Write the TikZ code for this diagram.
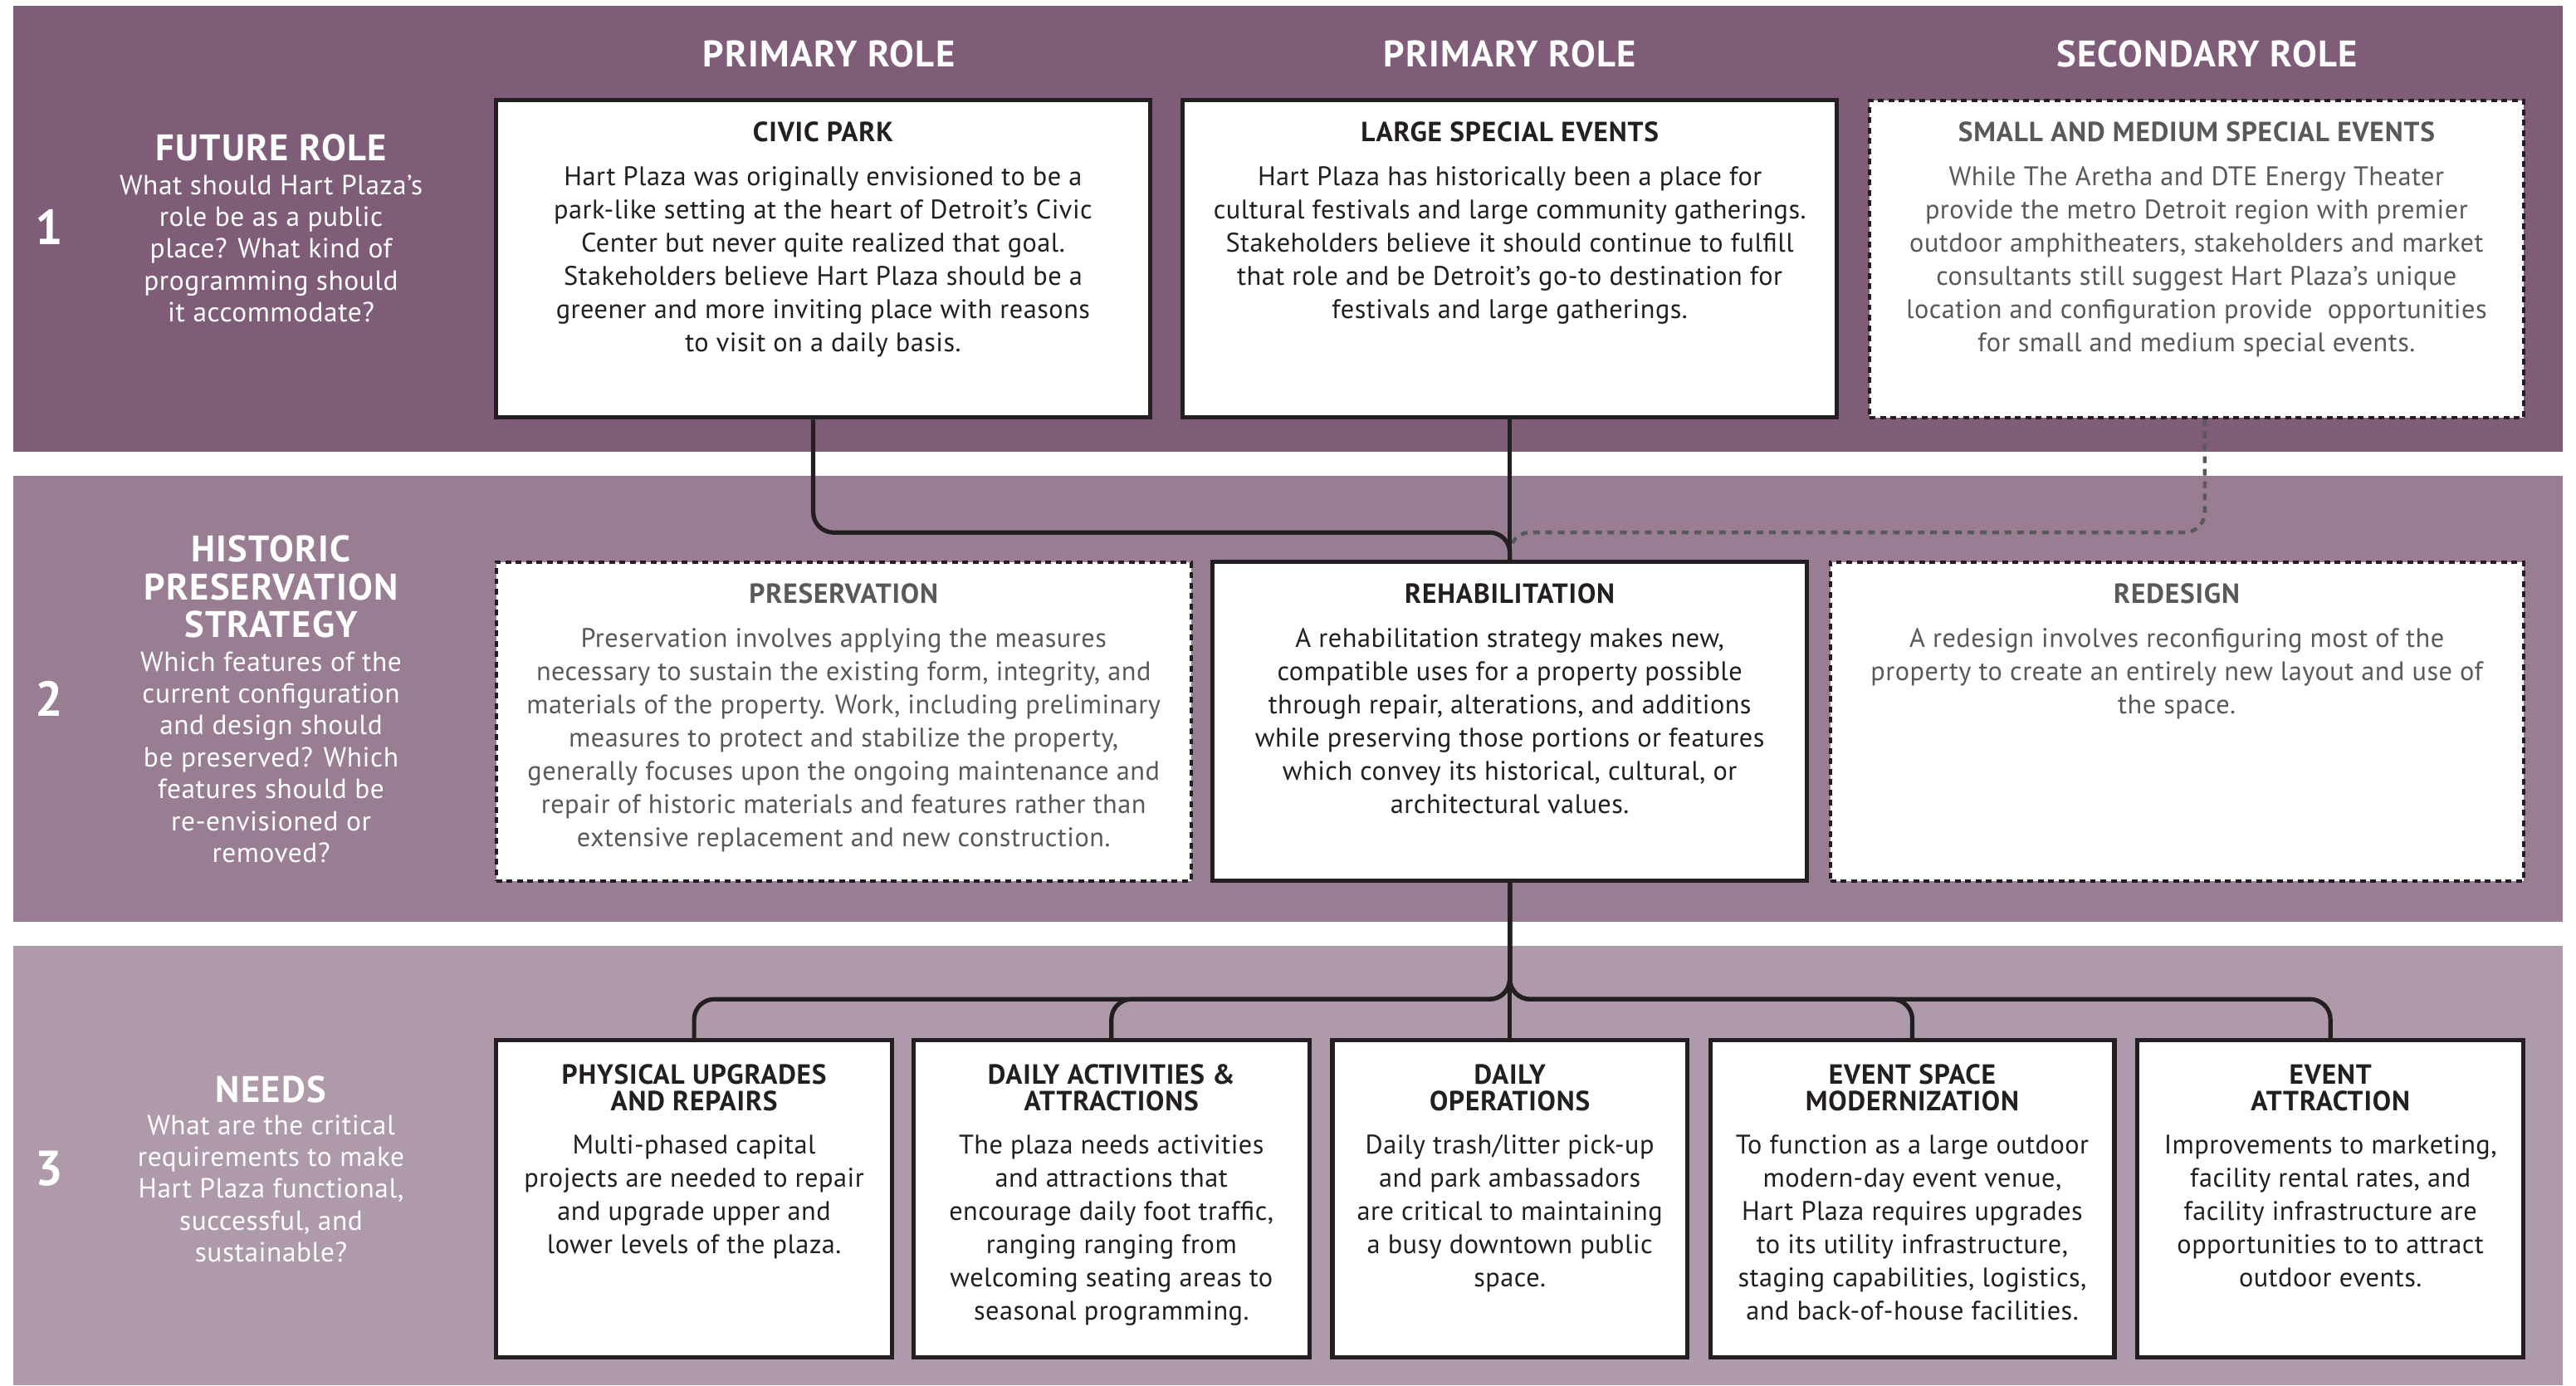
\documentclass[tikz,border=0pt]{standalone}
\usepackage{fontspec}
\setmainfont{PT Sans}
\usetikzlibrary{fit}
\definecolor{bandone}{RGB}{127,93,121}
\definecolor{bandtwo}{RGB}{152,125,147}
\definecolor{bandthree}{RGB}{175,154,171}
\definecolor{ink}{RGB}{35,31,32}
\definecolor{mute}{RGB}{88,89,91}

\begin{document}
\begin{tikzpicture}[x=0.02cm, y=-0.02cm,
    card/.style={draw=ink, line width=1.5pt, fill=white, inner sep=0pt},
    optcard/.style={draw=ink, line width=1.2pt, dash pattern=on 2pt off 1.6pt, fill=white, inner sep=0pt},
    cardhead/.style={font=\bfseries\fontsize{9.6}{9.2}\selectfont\addfontfeature{LetterSpace=2.5}, text=ink, align=center, inner sep=0pt},
    cardtext/.style={font=\fontsize{9.3}{11.5}\selectfont\addfontfeature{LetterSpace=1.5}, text=ink, align=center, inner sep=0pt, anchor=north},
    opthead/.style={cardhead, text=mute},
    opttext/.style={cardtext, text=mute},
    colhead/.style={font=\bfseries\fontsize{12.8}{14}\selectfont\addfontfeature{LetterSpace=3}, text=white, inner sep=0pt},
    rownum/.style={font=\bfseries\fontsize{17}{18}\selectfont, text=white, inner sep=0pt},
    rowhead/.style={font=\bfseries\fontsize{12.8}{13.1}\selectfont\addfontfeature{LetterSpace=3}, text=white, align=center, inner sep=0pt},
    rowtext/.style={font=\fontsize{9.6}{11.05}\selectfont\addfontfeature{LetterSpace=1.7}, text=white, align=center, inner sep=0pt, anchor=north},
    link/.style={draw=ink, line width=1.5pt, rounded corners=7pt},
    optlink/.style={draw=mute, line width=1.3pt, dash pattern=on 2.3pt off 2pt, rounded corners=7pt}]
  \useasboundingbox (0,0) rectangle (1568,843);
  % three bands: role, strategy, needs
  \fill[bandone] (8,3.5) rectangle (1560,275);
  \fill[bandtwo] (8,289.5) rectangle (1560,561);
  \fill[bandthree] (8,575.5) rectangle (1560,843);

  % left column: step number, title, question
  \node[rownum] (n1) at (30,138) {1};
  \node[rowhead] (h1) at (165,90) {FUTURE ROLE};
  \node[rowtext] (q1) at (165,106) {What should Hart Plaza’s\\role be as a public\\place? What kind of\\programming should\\it accommodate?};
  \node[rownum] (n2) at (30,425) {2};
  \node[rowhead] (h2) at (165,357) {HISTORIC\\PRESERVATION\\STRATEGY};
  \node[rowtext] (q2) at (165,396) {Which features of the\\current configuration\\and design should\\be preserved? Which\\features should be\\re-envisioned or\\removed?};
  \node[rownum] (n3) at (30,711) {3};
  \node[rowhead] (h3) at (165,663) {NEEDS};
  \node[rowtext] (q3) at (165,678) {What are the critical\\requirements to make\\Hart Plaza functional,\\successful, and\\sustainable?};

  % boxes (solid = chosen, dashed = alternative)
  \node[card, fit={(302,61) (700,254)}] (park) {};
  \node[card, fit={(720,61) (1118,254)}] (events) {};
  \node[optcard, fit={(1138,61) (1536,254)}] (small) {};
  \node[optcard, fit={(302,342) (725,536)}] (keep) {};
  \node[card, fit={(738,342) (1100,536)}] (rehab) {};
  \node[optcard, fit={(1114,342) (1536,536)}] (redo) {};
  \node[card, fit={(302,633) (543,826)}] (phys) {};
  \node[card, fit={(556,633) (797,826)}] (acts) {};
  \node[card, fit={(811,633) (1027,826)}] (ops) {};
  \node[card, fit={(1041,633) (1287,826)}] (venue) {};
  \node[card, fit={(1301,633) (1536,826)}] (pull) {};

  % connectors
  \coordinate (jtop) at (919,324);
  \coordinate (jbot) at (919,608);
  \draw[optlink] ([xshift=0.1cm]small.south) |- (jtop) -- (rehab.north);
  \draw[link] ([xshift=-0.12cm]park.south) |- (jtop) -- (rehab.north);
  \draw[link] (events.south) -- (rehab.north);
  \draw[link] (rehab.south) -- (ops.north);
  \foreach \b in {phys,acts,venue,pull}
    \draw[link] (rehab.south) -- (jbot) -| (\b.north);

  % column headers
  \node[colhead, xshift=0.07cm] (hpark) at (park.north |- 0,33) {PRIMARY ROLE};
  \node[colhead] (hevents) at (events.north |- 0,33) {PRIMARY ROLE};
  \node[colhead, xshift=0.13cm] (hsmall) at (small.north |- 0,33) {SECONDARY ROLE};

  % future role
  \node[cardhead] (parkh) at (park.north |- 0,80) {CIVIC PARK};
  \node[cardtext] (parkt) at (park.north |- 0,101) {Hart Plaza was originally envisioned to be a\\park-like setting at the heart of Detroit’s Civic\\Center but never quite realized that goal.\\Stakeholders believe Hart Plaza should be a\\greener and more inviting place with reasons\\to visit on a daily basis.};
  \node[cardhead] (eventsh) at (events.north |- 0,80) {LARGE SPECIAL EVENTS};
  \node[cardtext] (eventst) at (events.north |- 0,101) {Hart Plaza has historically been a place for\\cultural festivals and large community gatherings.\\Stakeholders believe it should continue to fulfill\\that role and be Detroit’s go-to destination for\\festivals and large gatherings.};
  \node[opthead] (smallh) at (small.north |- 0,80) {SMALL AND MEDIUM SPECIAL EVENTS};
  \node[opttext] (smallt) at (small.north |- 0,101) {While The Aretha and DTE Energy Theater\\provide the metro Detroit region with premier\\outdoor amphitheaters, stakeholders and market\\consultants still suggest Hart Plaza’s unique\\location and configuration provide\ \ opportunities\\for small and medium special events.};

  % preservation strategy
  \node[opthead] (keeph) at (keep.north |- 0,361) {PRESERVATION};
  \node[opttext] (keept) at (keep.north |- 0,382) {Preservation involves applying the measures\\necessary to sustain the existing form, integrity, and\\materials of the property. Work, including preliminary\\measures to protect and stabilize the property,\\generally focuses upon the ongoing maintenance and\\repair of historic materials and features rather than\\extensive replacement and new construction.};
  \node[cardhead] (rehabh) at (rehab.north |- 0,361) {REHABILITATION};
  \node[cardtext] (rehabt) at (rehab.north |- 0,382) {A rehabilitation strategy makes new,\\compatible uses for a property possible\\through repair, alterations, and additions\\while preserving those portions or features\\which convey its historical, cultural, or\\architectural values.};
  \node[opthead] (redoh) at (redo.north |- 0,361) {REDESIGN};
  \node[opttext] (redot) at (redo.north |- 0,382) {A redesign involves reconfiguring most of the\\property to create an entirely new layout and use of\\the space.};

  % needs
  \node[cardhead] (physh) at (phys.north |- 0,662) {PHYSICAL UPGRADES\\AND REPAIRS};
  \node[cardtext] (physt) at (phys.north |- 0,690) {Multi-phased capital\\projects are needed to repair\\and upgrade upper and\\lower levels of the plaza.};
  \node[cardhead] (actsh) at (acts.north |- 0,662) {DAILY ACTIVITIES \&\\ATTRACTIONS};
  \node[cardtext] (actst) at (acts.north |- 0,690) {The plaza needs activities\\and attractions that\\encourage daily foot traffic,\\ranging ranging from\\welcoming seating areas to\\seasonal programming.};
  \node[cardhead] (opsh) at (ops.north |- 0,662) {DAILY\\OPERATIONS};
  \node[cardtext] (opst) at (ops.north |- 0,690) {Daily trash/litter pick-up\\and park ambassadors\\are critical to maintaining\\a busy downtown public\\space.};
  \node[cardhead] (venueh) at (venue.north |- 0,662) {EVENT SPACE\\MODERNIZATION};
  \node[cardtext] (venuet) at (venue.north |- 0,690) {To function as a large outdoor\\modern-day event venue,\\Hart Plaza requires upgrades\\to its utility infrastructure,\\staging capabilities, logistics,\\and back-of-house facilities.};
  \node[cardhead] (pullh) at (pull.north |- 0,662) {EVENT\\ATTRACTION};
  \node[cardtext] (pullt) at (pull.north |- 0,690) {Improvements to marketing,\\facility rental rates, and\\facility infrastructure are\\opportunities to to attract\\outdoor events.};
\end{tikzpicture}
\end{document}
